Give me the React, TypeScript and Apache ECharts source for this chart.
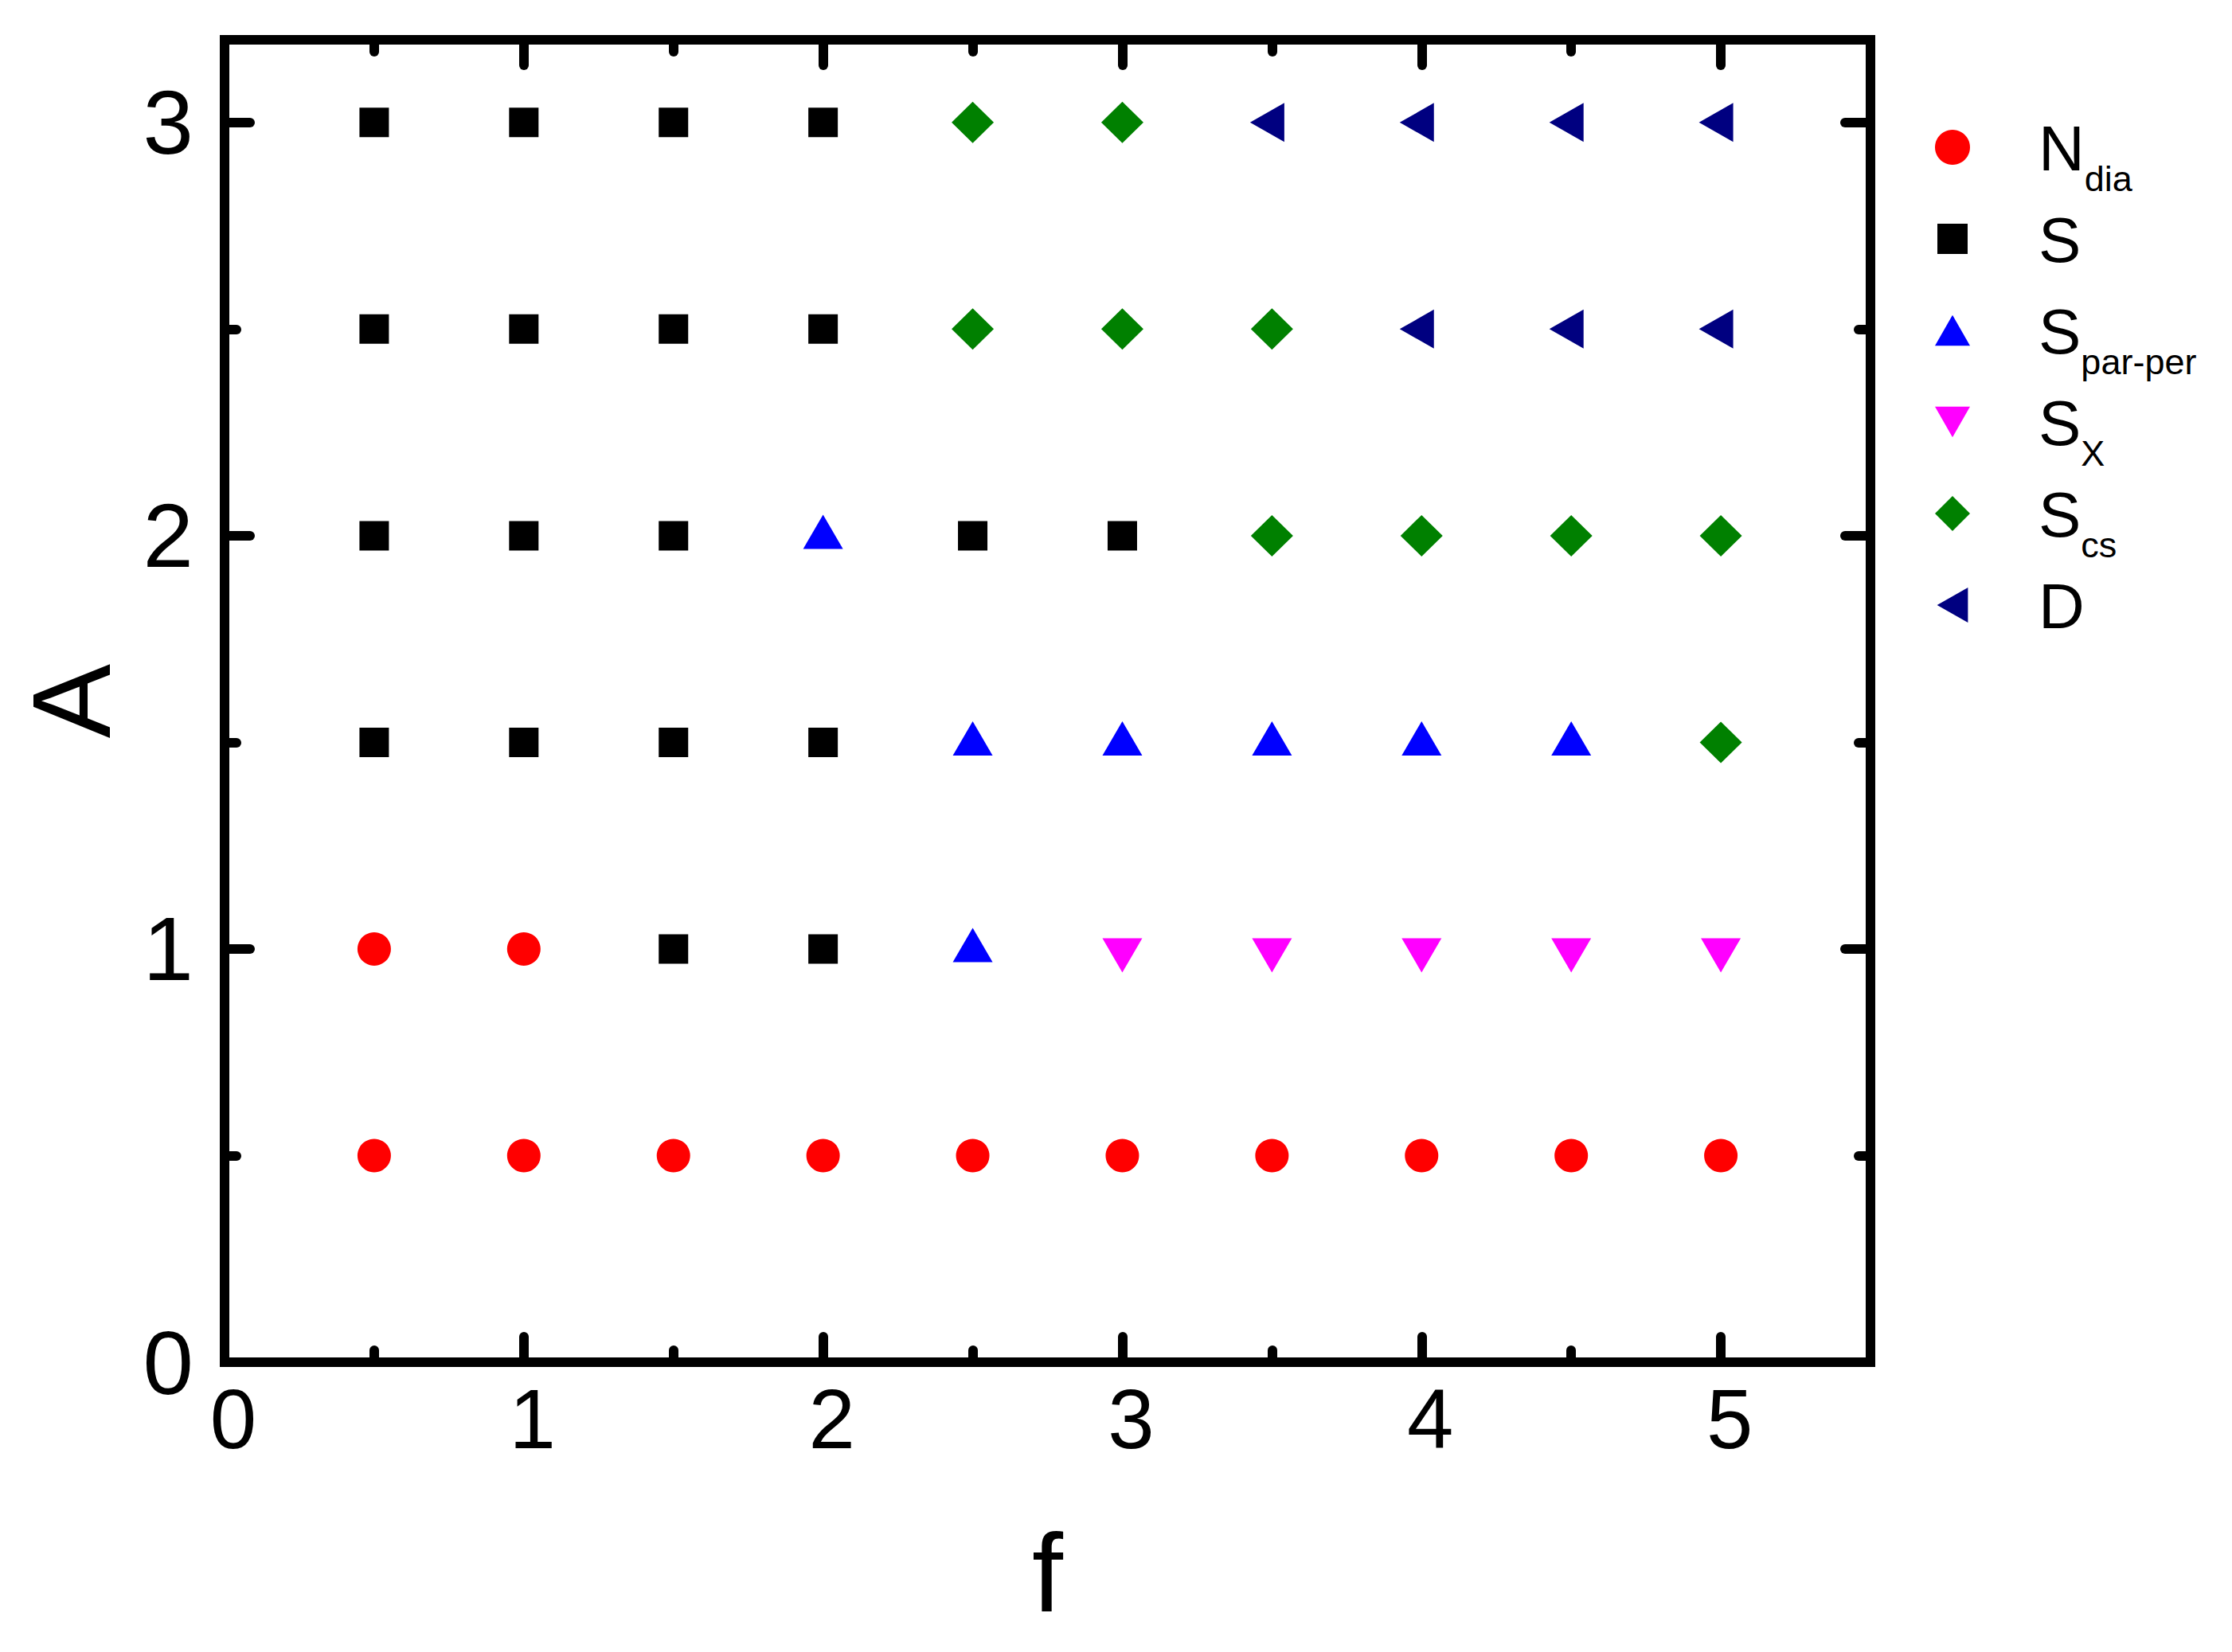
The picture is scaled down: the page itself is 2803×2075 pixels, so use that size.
import React, { useEffect, useRef } from "react";
import * as echarts from "echarts";

// ---- data (f, A) per phase ----
const seriesNames = ["N_dia", "S", "S_par-per", "S_X", "S_cs", "D"];
const nDia = [[0.5,0.5],[1,0.5],[1.5,0.5],[2,0.5],[2.5,0.5],[3,0.5],[3.5,0.5],[4,0.5],[4.5,0.5],[5,0.5],[0.5,1],[1,1]];
const sPhase = [[1.5,1],[2,1],[0.5,1.5],[1,1.5],[1.5,1.5],[2,1.5],[0.5,2],[1,2],[1.5,2],[2.5,2],[3,2],[0.5,2.5],[1,2.5],[1.5,2.5],[2,2.5],[0.5,3],[1,3],[1.5,3],[2,3]];
const sParPer = [[2.5,1],[2.5,1.5],[3,1.5],[3.5,1.5],[4,1.5],[4.5,1.5],[2,2]];
const sX = [[3,1],[3.5,1],[4,1],[4.5,1],[5,1]];
const sCs = [[5,1.5],[3.5,2],[4,2],[4.5,2],[5,2],[2.5,2.5],[3,2.5],[3.5,2.5],[2.5,3],[3,3]];
const dPhase = [[4,2.5],[4.5,2.5],[5,2.5],[3.5,3],[4,3],[4.5,3],[5,3]];

const xMin = 0, xMax = 5.5, yMin = 0, yMax = 3.2;

const FONT = "'Liberation Sans', Arial, sans-serif";
const LW = 12;

function axisBase(extra: any) {
  return {
    type: "value",
    axisLine: { show: false, onZero: false },
    axisLabel: { show: false },
    splitLine: { show: false },
    axisTick: { show: false },
    ...extra,
  };
}

function majorAxis(dim: "x" | "y", position: string, withLabels: boolean) {
  const isX = dim === "x";
  return axisBase({
    position,
    min: isX ? xMin : yMin,
    max: isX ? xMax : yMax,
    interval: 1,
    axisLine: { show: true, onZero: false, lineStyle: { color: "#000", width: LW, cap: "square" } },
    axisTick: { show: true, inside: true, length: 32, lineStyle: { color: "#000", width: LW, cap: "round" } },
    axisLabel: withLabels
      ? {
          show: true,
          color: "#000",
          fontFamily: FONT,
          fontSize: isX ? 105 : 114,
          margin: isX ? 19 : 39,
          padding: isX ? [0, 0, 0, 22] : [0, 0, 24, 0],
          formatter: (v: number) => (Number.isInteger(v) ? String(v) : ""),
        }
      : { show: false },
  });
}

function minorAxis(dim: "x" | "y", position: string) {
  const isX = dim === "x";
  return axisBase({
    position,
    min: isX ? xMin : yMin,
    max: isX ? xMax : yMax,
    interval: 0.5,
    axisTick: { show: true, inside: true, length: 15, lineStyle: { color: "#000", width: LW, cap: "round" } },
  });
}

export default function App() {
  const ref = useRef<HTMLDivElement>(null);
  useEffect(() => {
    document.body.style.margin = "0";
    if (!ref.current) return;
    const chart = echarts.init(ref.current, null, { renderer: "svg" });
    const xAx: any[] = [majorAxis("x", "bottom", true), minorAxis("x", "bottom"), majorAxis("x", "top", false), minorAxis("x", "top")];
    const yAx: any[] = [majorAxis("y", "left", true), minorAxis("y", "left"), majorAxis("y", "right", false), minorAxis("y", "right")];
    xAx[0].name = "f";
    xAx[0].nameLocation = "middle";
    xAx[0].nameGap = 194;
    xAx[0].nameTextStyle = { fontSize: 140, fontFamily: FONT, color: "#000" };
    yAx[0].name = "A";
    yAx[0].nameLocation = "middle";
    yAx[0].nameGap = 123;
    yAx[0].nameTextStyle = { fontSize: 140, fontFamily: FONT, color: "#000" };

    const mk = (name: string, data: number[][], symbol: string, size: any, color: string, rotate = 0, offset = [0, 0]) => ({
      name,
      type: "scatter",
      xAxisIndex: 0,
      yAxisIndex: 0,
      data,
      symbol,
      symbolSize: size,
      symbolRotate: rotate,
      symbolOffset: offset,
      itemStyle: { color, opacity: 1 },
      emphasis: { disabled: true },
    });

    const legendIcons: Record<string, string> = {
      "N_dia": "circle",
      "S": "path://M0,0 L38,0 L38,38 L0,38 Z M-3,-3 L-3,-3 M41,41 L41,41",
      "S_par-per": "path://M25,0 L50,44 L0,44 Z",
      "S_X": "path://M0,0 L50,0 L25,44 Z",
      "S_cs": "diamond",
      "D": "path://M44,0 L44,50 L0,25 Z",
    };

    chart.setOption({
      animation: false,
      backgroundColor: "#fff",
      textStyle: { fontFamily: FONT },
      grid: { left: 282, top: 50, right: 454, bottom: 364, containLabel: false },
      xAxis: xAx,
      yAxis: yAx,
      legend: {
        orient: "vertical",
        left: 2430,
        top: 145,
        padding: 0,
        itemGap: -9,
        itemWidth: 44,
        itemHeight: 44,
        symbolKeepAspect: true,
        selectedMode: false,
        data: seriesNames.map((n) => ({ name: n, icon: legendIcons[n] })),
        formatter: (name: string) => {
          const i = name.indexOf("_");
          if (i < 0) return `{m|${name}}`;
          return `{m|${name.slice(0, i)}}{s|${name.slice(i + 1)}}`;
        },
        textStyle: {
          color: "#000",
          fontFamily: FONT,
          rich: {
            m: { fontSize: 80, lineHeight: 80, padding: [1, 0, 43, 81], verticalAlign: "top", fontFamily: FONT, color: "#000" },
            s: { fontSize: 45, lineHeight: 45, padding: [57, 0, 0, 0], verticalAlign: "top", fontFamily: FONT, color: "#000" },
          },
        },
      },
      series: [
        mk("N_dia", nDia, "circle", 42, "#FF0000"),
        mk("S", sPhase, "rect", 37, "#000000"),
        mk("S_par-per", sParPer, "triangle", [50, 43], "#0000FF", 0, [0, -5]),
        mk("S_X", sX, "triangle", [50, 43], "#FF00FF", 180, [0, 8]),
        mk("S_cs", sCs, "diamond", [53, 52], "#008000"),
        mk("D", dPhase, "triangle", [49, 43], "#000080", 90, [-6, 0]),
      ],
    });
    return () => chart.dispose();
  }, []);
  return <div ref={ref} style={{ width: 2803, height: 2075 }} />;
}
